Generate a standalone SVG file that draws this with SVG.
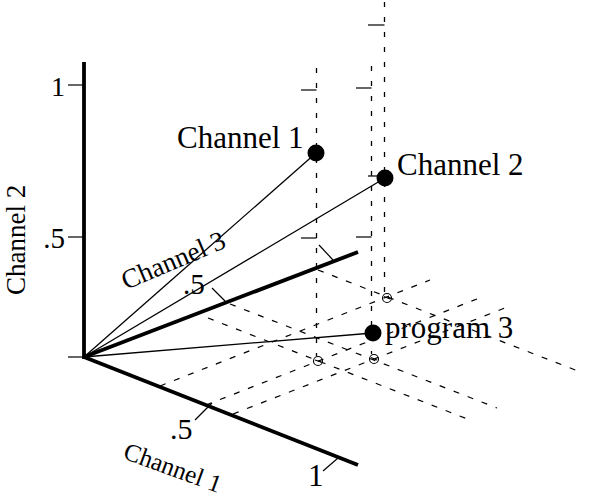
<svg xmlns="http://www.w3.org/2000/svg" width="589" height="502" viewBox="0 0 589 502">
<style>
.ax{stroke:#000;stroke-width:3.8;fill:none;stroke-linecap:butt}
.tk{stroke:#000;stroke-width:1.2;fill:none}
.th{stroke:#000;stroke-width:1.3;fill:none}
.dv{stroke:#000;stroke-width:1.3;fill:none;stroke-dasharray:5 10}
.dg{stroke:#000;stroke-width:1.2;fill:none;stroke-dasharray:6 9}
.ring{stroke:#000;stroke-width:1.1;fill:none}
.lb{font-family:"Liberation Serif","Times New Roman",serif;fill:#000}
</style>
<rect width="589" height="502" fill="#fff"/>
<g id="grid">
<line class="dv" x1="316.5" y1="68" x2="316.5" y2="356"/>
<line class="dv" x1="371.5" y1="66" x2="371.5" y2="354"/>
<line class="dv" x1="384.5" y1="2" x2="384.5" y2="292"/>
<line class="tk" x1="301" y1="90" x2="316.5" y2="90"/>
<line class="tk" x1="301" y1="238" x2="316.5" y2="238"/>
<line class="tk" x1="356" y1="88" x2="371.5" y2="88"/>
<line class="tk" x1="356" y1="237" x2="371.5" y2="237"/>
<line class="tk" x1="368" y1="25" x2="384.5" y2="25"/>
<line class="tk" x1="368" y1="176" x2="384.5" y2="176"/>
<line class="dg" x1="318" y1="270" x2="583" y2="373"/>
<line class="dg" x1="208" y1="318" x2="470" y2="420"/>
<line class="dg" x1="230" y1="304" x2="497" y2="408"/>
<line class="dg" x1="160" y1="386" x2="430" y2="280"/>
<line class="dg" x1="206" y1="405" x2="482" y2="297"/>
<line class="dg" x1="233" y1="414" x2="510" y2="306"/>
<circle class="ring" cx="387" cy="298" r="4.5"/>
<line class="tk" x1="384" y1="296.5" x2="390" y2="299"/>
<circle class="ring" cx="318" cy="361" r="4.5"/>
<line class="tk" x1="315" y1="360" x2="321" y2="362"/>
<circle class="ring" cx="374" cy="359" r="4.5"/>
<line class="tk" x1="371" y1="357.5" x2="377" y2="360"/>
</g>
<g id="axis-channel2">
<line class="ax" x1="84" y1="62" x2="84" y2="359"/>
<line class="tk" x1="68" y1="85" x2="84" y2="85"/>
<line class="tk" x1="68" y1="237" x2="84" y2="237"/>
<line class="tk" x1="68" y1="357" x2="84" y2="357"/>
<text class="lb" x="65" y="96" font-size="28" text-anchor="end">1</text>
<text class="lb" x="65" y="248" font-size="29" text-anchor="end">.5</text>
<text class="lb" font-size="27" transform="translate(25,295) rotate(-90)">Channel 2</text>
</g>
<g id="axis-channel1">
<line class="ax" x1="84" y1="357" x2="358" y2="465"/>
<line class="tk" x1="195" y1="420" x2="212" y2="403"/>
<line class="tk" x1="323" y1="471" x2="338" y2="458"/>
<text class="lb" x="170" y="439" font-size="30">.5</text>
<text class="lb" x="308" y="486" font-size="31">1</text>
<text class="lb" font-size="25" transform="translate(122,458) rotate(20)">Channel 1</text>
</g>
<g id="axis-channel3">
<line class="ax" x1="84" y1="357" x2="358" y2="252"/>
<line class="tk" x1="212" y1="288" x2="225" y2="301"/>
<line class="tk" x1="319" y1="245" x2="333" y2="260"/>
<text class="lb" x="183" y="294" font-size="29">.5</text>
<text class="lb" font-size="27" transform="translate(126,290) rotate(-23)">Channel 3</text>
</g>
<g id="connectors">
<line class="th" x1="84" y1="357" x2="316" y2="153"/>
<line class="th" x1="84" y1="357" x2="385" y2="178"/>
<line class="th" x1="84" y1="357" x2="373" y2="333"/>
</g>
<g id="node-channel1">
<circle cx="316" cy="153" r="8.5" fill="#000"/>
<text class="lb" x="177" y="148" font-size="31">Channel 1</text>
</g>
<g id="node-channel2">
<circle cx="385" cy="178" r="8.5" fill="#000"/>
<text class="lb" x="397" y="175" font-size="31">Channel 2</text>
</g>
<g id="node-program3">
<circle cx="373" cy="333" r="8.5" fill="#000"/>
<text class="lb" x="385" y="338" font-size="31">program 3</text>
</g>
</svg>
